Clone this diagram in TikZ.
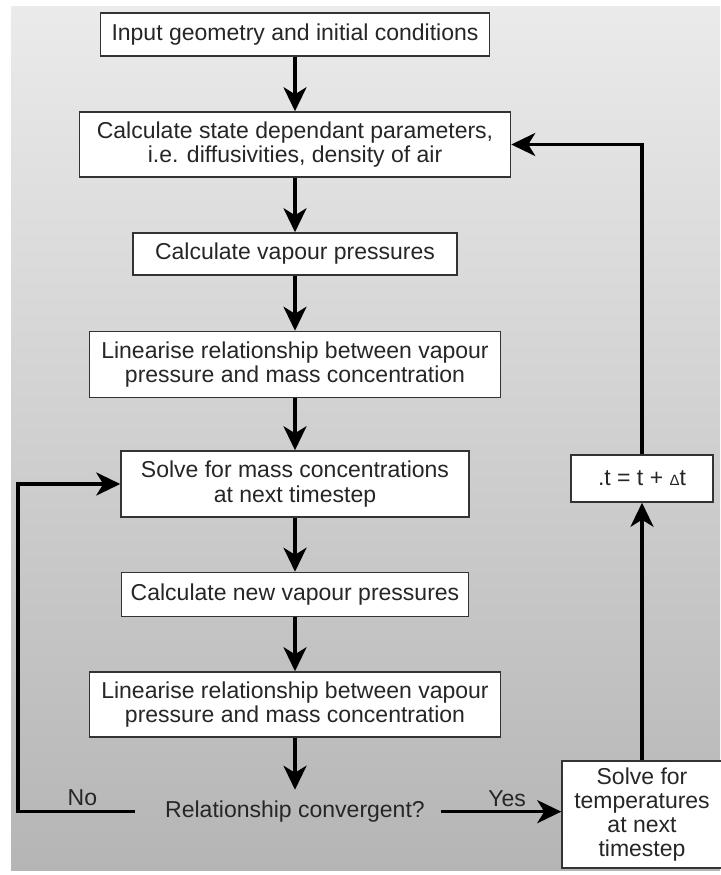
\documentclass[tikz,border=0pt]{standalone}
\usepackage{fontspec}
\setmainfont{Liberation Sans}
\usepackage{xcolor}
\usetikzlibrary{arrows.meta,positioning}

\begin{document}
\begin{tikzpicture}[
    x=1pt, y=-1pt,
    every node/.style={font=\fontsize{23}{24.5}\selectfont, text=black!85},
    stepbox/.style={
        draw=black!80,
        line width=1.5pt,
        fill=white,
        align=center,
        inner sep=0pt
    },
    flow/.style={
        -{Stealth[length=24pt,width=23pt,inset=7pt]},
        line width=3.5pt,
        black
    }
]

% ==========================================================
% BACKGROUND
% ==========================================================

\useasboundingbox (0,0) rectangle (720,875);
\fill[white] (0,0) rectangle (720,875);
\shade[top color=black!8, bottom color=black!29] (11,7) rectangle (720,870);

% ==========================================================
% MAIN COLUMN
% ==========================================================

\node[stepbox, minimum width=389pt, minimum height=43pt] (input)
    at (295,34.5)
{Input geometry and initial conditions};

\node[stepbox, minimum width=431pt, minimum height=65pt,
      below=54.5pt of input] (state)
{Calculate state dependant parameters,\\
i.e. diffusivities, density of air};

\node[stepbox, minimum width=324pt, minimum height=42pt,
      below=54.5pt of state] (vapour)
{Calculate vapour pressures};

\node[stepbox, minimum width=411pt, minimum height=66pt,
      below=55pt of vapour] (linear)
{Linearise relationship between vapour\\
pressure and mass concentration};

\node[stepbox, minimum width=348pt, minimum height=66pt,
      below=52pt of linear] (solve)
{Solve for mass concentrations\\
at next timestep};

\node[stepbox, minimum width=347pt, minimum height=44pt,
      below=54pt of solve] (newvapour)
{Calculate new vapour pressures};

\node[stepbox, minimum width=411pt, minimum height=65pt,
      below=54pt of newvapour] (relinear)
{Linearise relationship between vapour\\
pressure and mass concentration};

\node[inner xsep=2pt, inner ysep=11pt,
      below=52pt of relinear] (converge)
{Relationship convergent?};

% ==========================================================
% RIGHT COLUMN
% ==========================================================

\node[stepbox, minimum width=160pt, minimum height=107pt,
      font=\fontsize{23}{24}\selectfont] (temps)
    at (642,814.5)
{Solve for\\
temperatures\\
at next\\
timestep};

\node[stepbox, minimum width=142pt, minimum height=47pt] (tstep)
    at (642,478.5)
{.t = t + {\fontsize{15}{15}\selectfont Δ}t};

\coordinate (nocorner) at ([xshift=-145pt]converge.west);

% ==========================================================
% CONNECTORS
% ==========================================================

\draw[flow] (input) -- (state);
\draw[flow] (state) -- (vapour);
\draw[flow] (vapour) -- (linear);
\draw[flow] (linear) -- (solve);
\draw[flow] (solve) -- (newvapour);
\draw[flow] (newvapour) -- (relinear);
\draw[flow] (relinear) -- (converge);

\draw[flow]
([xshift=-28pt]converge.west) --
node[pos=0.45, above, yshift=1pt] {No}
(nocorner) |- (solve.west);

\draw[flow]
([xshift=14pt]converge.east) --
node[pos=0.55, above] {Yes}
(converge.east -| temps.west);

\draw[flow] (temps) -- (tstep);

\draw[flow] (tstep.north) |- (state.east);

\end{tikzpicture}
\end{document}
